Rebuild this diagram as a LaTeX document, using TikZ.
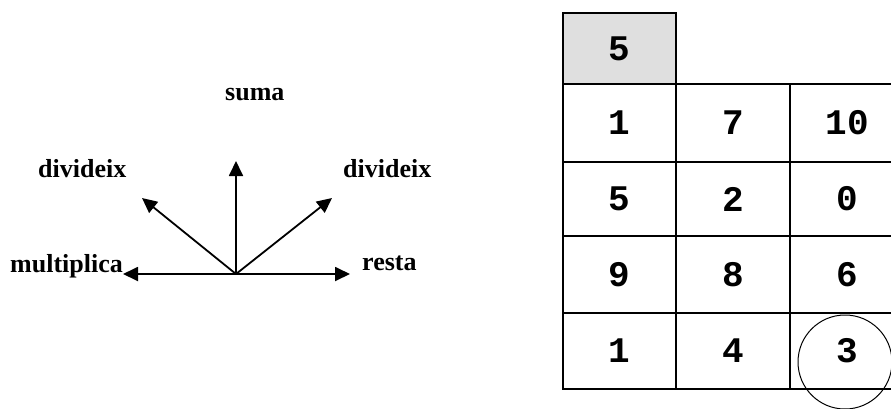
\documentclass[tikz,border=0pt]{standalone}
\usepackage{fontspec}
\setmainfont{Liberation Serif}
\newfontfamily\gridfont{Liberation Mono}
\usetikzlibrary{arrows.meta}
\begin{document}
\begin{tikzpicture}[x=1pt,y=-1pt,
  lab/.style={font=\fontsize{26}{30}\selectfont\bfseries, inner sep=0pt, anchor=base west},
  ray/.style={line width=1.8pt, -{Triangle[length=15pt,width=14pt]}},
  cell/.style={draw, line width=2pt, inner sep=0pt, font=\gridfont\fontsize{36}{40}\selectfont\bfseries},
  ring/.style={draw, circle, line width=1pt, inner sep=0pt, minimum size=94pt}]
\useasboundingbox (0,0) rectangle (891,408);
\clip (0,0) rectangle (891,408);
% labels
\node[lab] (suma) at (225,100) {suma};
\node[lab] (divl) at (38,177) {divideix};
\node[lab] (divr) at (343,177) {divideix};
\node[lab] (mult) at (10,272) {multiplica};
\node[lab] (resta) at (362,270) {resta};
% rays
\coordinate (O) at (236,274);
\coordinate (tup) at (236,161);
\coordinate (tul) at (142,198);
\coordinate (tur) at (332,198);
\coordinate (tl) at (123,274);
\coordinate (tr) at (350,274);
\draw[ray] (O) -- (tup);
\draw[ray] (O) -- (tul);
\draw[ray] (O) -- (tur);
\draw[ray] (O) -- (tl);
\draw[ray] (O) -- (tr);
% grid
\node[cell, fill=gray!25, minimum width=113pt, minimum height=71pt] (c0) at (619.5,48.5) {5};
\node[cell, minimum width=113pt, minimum height=78pt] (c11) at (619.5,123) {1};
\node[cell, minimum width=114pt, minimum height=78pt] (c12) at (733,123) {7};
\node[cell, minimum width=114pt, minimum height=78pt] (c13) at (847,123) {10};
\node[cell, minimum width=113pt, minimum height=74pt] (c21) at (619.5,199) {5};
\node[cell, minimum width=114pt, minimum height=74pt] (c22) at (733,199) {2};
\node[cell, minimum width=114pt, minimum height=74pt] (c23) at (847,199) {0};
\node[cell, minimum width=113pt, minimum height=77pt] (c31) at (619.5,274.5) {9};
\node[cell, minimum width=114pt, minimum height=77pt] (c32) at (733,274.5) {8};
\node[cell, minimum width=114pt, minimum height=77pt] (c33) at (847,274.5) {6};
\node[cell, minimum width=113pt, minimum height=76pt] (c41) at (619.5,351) {1};
\node[cell, minimum width=114pt, minimum height=76pt] (c42) at (733,351) {4};
\node[cell, minimum width=114pt, minimum height=76pt] (c43) at (847,351) {3};
\node[ring] (circ) at (845,362) {};
\end{tikzpicture}
\end{document}
